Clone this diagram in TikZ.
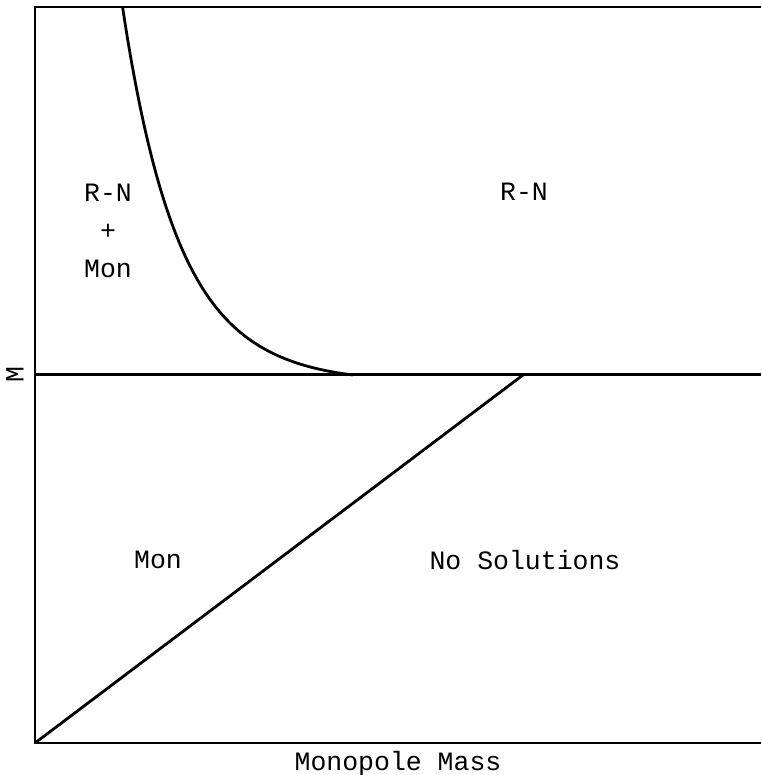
\documentclass[tikz,border=0pt]{standalone}
\usepackage{fontspec}
\setmonofont{Liberation Mono}
\begin{document}
\begin{tikzpicture}[x=1pt,y=1pt,font=\ttfamily\fontsize{26.5}{38}\selectfont]
  % Coordinates are pixels from the lower left corner of the frame.
  \useasboundingbox (-35,-32) rectangle (726,743);
  \coordinate (origin) at (0,0);
  \coordinate (topleft) at (0,736);
  \coordinate (topright) at (726,736);
  \coordinate (bottomright) at (726,0);
  \coordinate (midleft) at (0,368);
  \coordinate (midright) at (726,368);
  \coordinate (meet) at (488,368);
  \draw[line width=1.5pt] (bottomright) -- (origin) -- (topleft) -- (topright);
  \draw[line width=3pt] (midleft) -- (midright);
  \draw[line width=2.8pt] (origin) -- (meet);
  \draw[line width=2.8pt] plot[domain=0:230,samples=120,smooth] ({\x+87.7},{368+367*exp(-0.018*\x)*(1-(\x/230)^5)});
  \node (rnmon) [align=center] at (73,512) {R-N\\+\\Mon};
  \node (rn) at (489,551) {R-N};
  \node (mon) at (123,183) {Mon};
  \node (nosol) at (490,183) {No Solutions};
  \node (xlabel) at (363,-21) {Monopole Mass};
  \node (ylabel) [rotate=90] at (-20,368) {M};
\end{tikzpicture}
\end{document}
